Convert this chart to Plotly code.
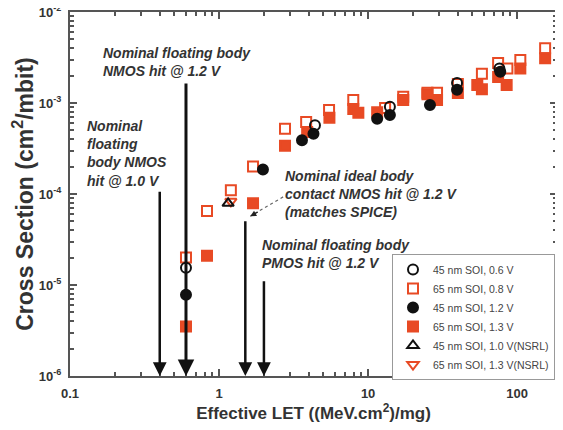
import plotly.graph_objects as go
import numpy as np

# ---- data ----
s45_06_x = [0.6, 4.4, 14, 39.5, 76]
s45_06_y = [1.55e-5, 5.7e-4, 9.1e-4, 1.66e-3, 2.4e-3]

s65_08_x = [0.6, 0.83, 1.2, 1.69, 2.77, 3.84, 5.47, 7.95, 13, 17.2, 25, 29, 40, 58, 74.5, 86, 105, 154]
s65_08_y = [2.0e-5, 6.5e-5, 1.1e-4, 2.0e-4, 5.2e-4, 6.2e-4, 8.4e-4, 1.08e-3, 8.8e-4, 1.17e-3, 1.3e-3, 1.3e-3, 1.62e-3, 2.1e-3, 2.75e-3, 2.4e-3, 2.97e-3, 4.0e-3]

s45_12_x = [0.6, 1.97, 3.6, 4.3, 11.5, 14, 26, 39.5, 77]
s45_12_y = [7.8e-6, 1.86e-4, 3.9e-4, 4.6e-4, 6.7e-4, 7.4e-4, 9.5e-4, 1.4e-3, 2.2e-3]

s65_13_x = [0.6, 0.83, 1.69, 2.77, 3.9, 5.5, 7.95, 8.6, 11.5, 17.2, 25, 29, 40, 54, 58, 74.5, 85, 105, 154]
s65_13_y = [3.5e-6, 2.1e-5, 7.9e-5, 3.4e-4, 4.8e-4, 6.9e-4, 8.6e-4, 7.8e-4, 7.9e-4, 1.08e-3, 1.25e-3, 1.08e-3, 1.29e-3, 1.58e-3, 1.42e-3, 1.93e-3, 1.58e-3, 2.4e-3, 3.1e-3]

s45_10n_x = [1.15]
s45_10n_y = [7.9e-5]

s65_13n_x = [1.2]
s65_13n_y = [8.3e-5]

# arrows: x position, top value (they point down to 1e-6)
arrow_x = [0.4, 0.6, 1.5, 2.0]
arrow_top = [1.1e-4, 1.7e-3, 5.2e-5, 1.14e-5]
arrow_bottom = 1e-6

# dashed pointer from text to the ideal-body arrow
pointer_x = [2.69, 1.62]
pointer_y = [9.3e-5, 5.7e-5]

RED = "#e84a24"
BLK = "#111111"

fig = go.Figure()

def add(x, y, name, symbol, color, rank):
    fig.add_trace(go.Scatter(
        x=x, y=y, mode="markers", name=name, legendrank=rank,
        marker=dict(symbol=symbol, size=10, color=color,
                    line=dict(color=color, width=2)),
    ))

add(s65_13_x, s65_13_y, "65 nm SOI, 1.3 V", "square", RED, 4)
add(s65_08_x, s65_08_y, "65 nm SOI, 0.8 V", "square-open", RED, 2)
add(s45_12_x, s45_12_y, "45 nm SOI, 1.2 V", "circle", BLK, 3)
add(s45_06_x, s45_06_y, "45 nm SOI, 0.6 V", "circle-open", BLK, 1)
add(s65_13n_x, s65_13n_y, "65 nm SOI, 1.3 V(NSRL)", "triangle-down-open", RED, 6)
add(s45_10n_x, s45_10n_y, "45 nm SOI, 1.0 V(NSRL)", "triangle-up-open", BLK, 5)

# dashed pointer line
fig.add_trace(go.Scatter(x=pointer_x, y=pointer_y, mode="lines", showlegend=False,
                         line=dict(color="#666666", width=1.2, dash="dot"), hoverinfo="skip"))

annotations = []
for xv, top in zip(arrow_x, arrow_top):
    annotations.append(dict(
        x=np.log10(xv), y=np.log10(arrow_bottom), ax=np.log10(xv), ay=np.log10(top),
        xref="x", yref="y", axref="x", ayref="y", text="", showarrow=True,
        arrowhead=2, arrowsize=1.1, arrowwidth=3 if xv == 0.6 else 2.5, arrowcolor="#111111"))

# arrowhead of pointer
annotations.append(dict(x=np.log10(pointer_x[1]), y=np.log10(pointer_y[1]), ax=9, ay=-5,
                        xref="x", yref="y", text="", showarrow=True, arrowhead=2,
                        arrowsize=1, arrowwidth=1.2, arrowcolor="#222222"))

# page body has an 8px margin; compensate so the plot lands where the reference has it
OFF = 8
L, R, T, B = 70 - OFF, 6, 12 - OFF, 54
W, H = 563 - OFF, 430 - OFF
pw, ph = W - L - R, H - T - B

tf = dict(family="Liberation Sans, Arial, sans-serif", size=14, color="#333333")
texts = [
    (101, 62, "Nominal floating body<br>NMOS hit @ 1.2 V"),
    (85, 154, "Nominal<br>floating<br>body NMOS<br>hit @ 1.0 V"),
    (283, 194, "Nominal ideal body<br>contact NMOS hit @ 1.2 V<br>(matches SPICE)"),
    (260, 254, "Nominal floating body<br>PMOS hit @ 1.2 V"),
]
for px, py, t in texts:
    annotations.append(dict(
        x=(px - OFF - L) / pw, y=1 - (py - OFF - T) / ph, xref="paper", yref="paper",
        xanchor="left", yanchor="middle", align="left", showarrow=False,
        text="<b><i>" + t + "</i></b>", font=tf))

yvals = [1e-6, 1e-5, 1e-4, 1e-3, 1e-2]
ytext = ["10<sup>-6</sup>", "10<sup>-5</sup>", "10<sup>-4</sup>", "10<sup>-3</sup>", "10<sup>-2</sup>"]
xvals = [0.1, 1, 10, 100]
xtext = ["0.1", "1", "10", "100"]
xminor = [m * 10.0 ** e for e in range(-1, 3) for m in range(2, 10)]
yminor = [m * 10.0 ** e for e in range(-6, -2) for m in range(2, 10)]

axcol = "#555555"
fig.update_layout(
    width=W, height=H, margin=dict(l=L, r=R, t=T, b=B, autoexpand=False),
    paper_bgcolor="white", plot_bgcolor="white",
    annotations=annotations,
    font=dict(family="Liberation Sans, Arial, sans-serif", color="#333333"),
    legend=dict(x=(392 - OFF - L) / pw, y=1 - (254 - OFF - T) / ph, xanchor="left", yanchor="top",
                bordercolor="#999999", borderwidth=1, bgcolor="white",
                font=dict(size=10.5, color="#444444"), tracegroupgap=0,
                itemwidth=30),
    showlegend=True,
)
fig.update_xaxes(type="log", range=[-1, np.log10(185)], tickvals=xvals, ticktext=xtext,
                 automargin=False, ticklabelstandoff=4, ticklabeloverflow="allow",
                 showline=True, linecolor=axcol, linewidth=2, mirror="allticks",
                 ticks="inside", ticklen=7, tickwidth=1.5, tickcolor=axcol,
                 tickfont=dict(size=13, weight="bold", color="#333333"),
                 minor=dict(tickmode="array", tickvals=xminor, ticks="inside", ticklen=4,
                            tickcolor=axcol, showgrid=False),
                 showgrid=False, zeroline=False,
                 title=dict(text="<b>Effective LET ((MeV.cm<sup>2</sup>)/mg)</b>",
                            font=dict(size=17, color="#333333"), standoff=2))
fig.update_yaxes(type="log", range=[-6, -2], tickvals=yvals, ticktext=ytext,
                 automargin=False, ticklabelstandoff=4, ticklabeloverflow="allow",
                 showline=True, linecolor=axcol, linewidth=2, mirror="allticks",
                 ticks="inside", ticklen=7, tickwidth=1.5, tickcolor=axcol,
                 tickfont=dict(size=13, weight="bold", color="#333333"),
                 minor=dict(tickmode="array", tickvals=yminor, ticks="inside", ticklen=4,
                            tickcolor=axcol, showgrid=False),
                 showgrid=False, zeroline=False,
                 title=dict(text="<b>Cross Section (cm<sup>2</sup>/mbit)</b>",
                            font=dict(size=23, color="#333333"), standoff=5))

fig.write_html("out.html")
